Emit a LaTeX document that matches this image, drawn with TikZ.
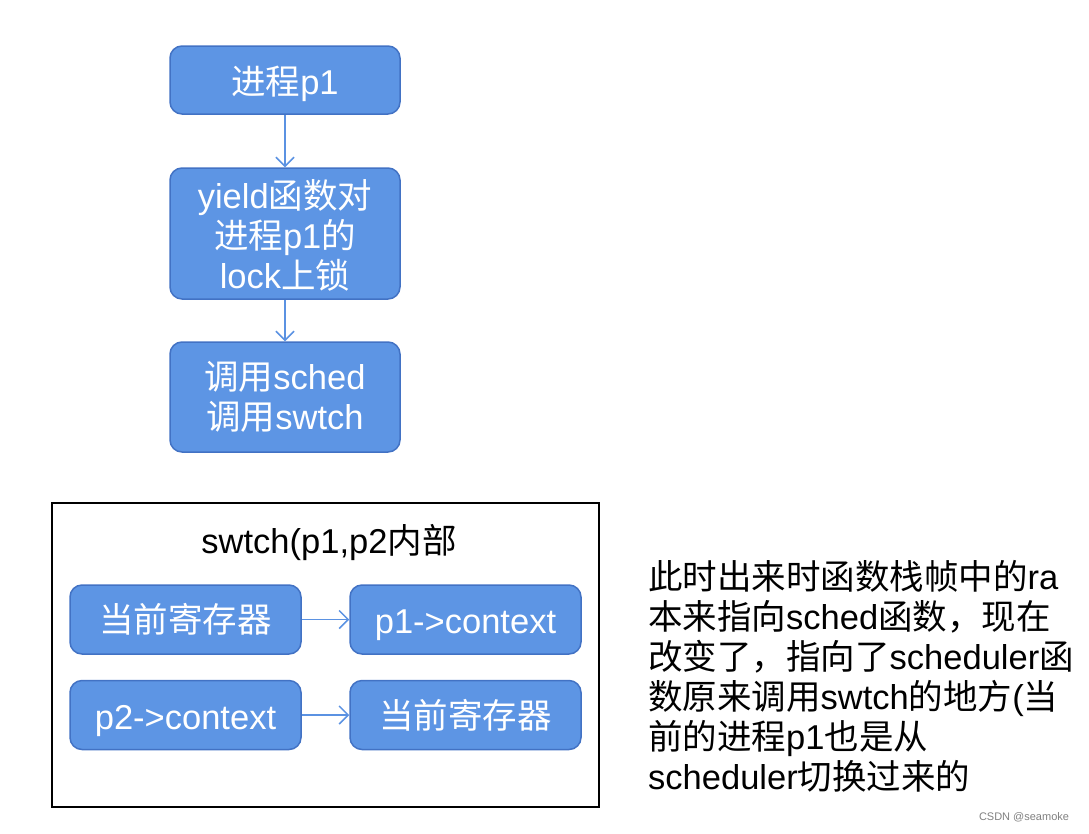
\documentclass[tikz,border=0pt]{standalone}
\usepackage{fontspec}
\setmainfont{Liberation Sans}
\newfontfamily\zhfont{Noto Sans CJK SC}
\newcommand\zh[1]{{\zhfont#1}}
\newcommand\topstrut{\rule{0pt}{1.03em}}
\usetikzlibrary{arrows.meta,positioning}
\definecolor{boxblue}{RGB}{93,149,228}
\definecolor{boxedge}{RGB}{66,114,196}
\definecolor{linkblue}{RGB}{91,146,226}
\tikzset{
  proc box/.style={draw=boxedge,fill=boxblue,rounded corners=12pt,line width=1.5pt,text=white,align=center,inner sep=0pt,font=\fontsize{34.5}{40}\selectfont},
  proc link/.style={-{Straight Barb[length=9pt,width=18pt]},linkblue,line width=1.5pt},
  frame box/.style={draw,line width=2pt,inner sep=0pt},
}

\begin{document}
\begin{tikzpicture}[x=1pt,y=-1pt]
  \useasboundingbox (0,0) rectangle (1089,833);
  % call chain of p1
  \node[proc box,minimum width=230pt,minimum height=68pt] (p1) at (285,80) {\topstrut\zh{进程}p1};
  \node[proc box,minimum width=230pt,minimum height=131pt] (yield) at (285,233.5) {\rule{0pt}{0.95em}yield\zh{函数对}\\\zh{进程}p1\zh{的}\\lock\zh{上锁}};
  \node[proc box,minimum width=230pt,minimum height=110pt] (sched) at (285,397) {\zh{调用}sched\\\zh{调用}swtch};
  \draw[proc link] (p1) -- (yield);
  \draw[proc link] (yield) -- (sched);
  % inside swtch
  \node[frame box,minimum width=547pt,minimum height=304pt] (frame) at (325.5,655) {};
  \node[font=\fontsize{34.5}{40}\selectfont] (title) at (329,543) {swtch(p1,p2\zh{内部}};
  \foreach \n/\x/\y/\t in {reg1/185.5/619.5/\zh{当前寄存器},ctx1/465.5/619.5/\topstrut p1->context,ctx2/185.5/715/\topstrut p2->context,reg2/465.5/715/\zh{当前寄存器}}{
    \node[proc box,minimum width=231pt,minimum height=69pt] (\n) at (\x,\y) {\t};
  }
  \draw[proc link] (reg1) -- (ctx1);
  \draw[proc link] (ctx2) -- (reg2);
  % note
  \node[anchor=north west,align=left,inner sep=0pt,font=\fontsize{34.5}{40}\selectfont] (note) at (648,560)
    {\zh{此时出来时函数栈帧中的}ra\\
     \zh{本来指向}sched\zh{函数，现在}\\
     \zh{改变了，指向了}scheduler\zh{函}\\
     \zh{数原来调用}swtch\zh{的地方}(\zh{当}\\
     \zh{前的进程}p1\zh{也是从}\\
     scheduler\zh{切换过来的}};
  \node[font=\fontsize{11}{13}\selectfont,text=gray] (mark) at (1024,817) {CSDN @seamoke};
\end{tikzpicture}
\end{document}
